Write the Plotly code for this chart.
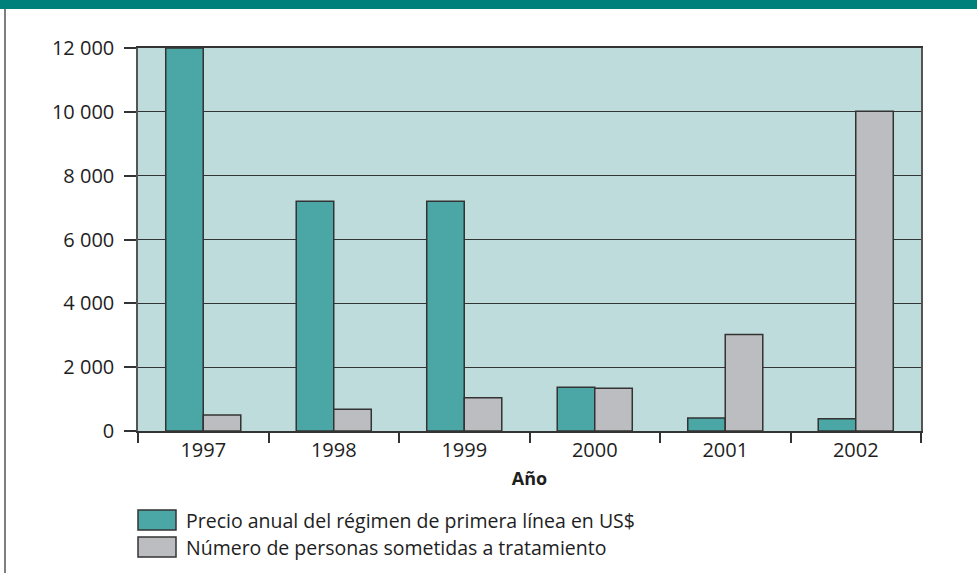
import plotly.graph_objects as go

years = ["1997", "1998", "1999", "2000", "2001", "2002"]
precio = [12000, 7200, 7200, 1370, 410, 380]
personas = [500, 680, 1040, 1340, 3020, 10020]
series_names = ["Precio anual del régimen de primera línea en US$",
                "Número de personas sometidas a tratamiento"]
y_ticks = [0, 2000, 4000, 6000, 8000, 10000, 12000]
x_title = "Año"

TEAL = "#4AA7A5"
GRAY = "#BCBDC1"
BG = "#BFDCDC"
BAND = "#00807A"
EDGE = "#333333"
FONT = "Open Sans"
TXT = "#1e1e1e"

fig = go.Figure()
fig.add_trace(go.Bar(x=years, y=precio, name=series_names[0],
                     marker=dict(color=TEAL, line=dict(color=EDGE, width=1.5))))
fig.add_trace(go.Bar(x=years, y=personas, name=series_names[1],
                     marker=dict(color=GRAY, line=dict(color=EDGE, width=1.5))))

fig.update_layout(
    width=977, height=573,
    margin=dict(l=138, r=56, t=48, b=142),
    paper_bgcolor="white", plot_bgcolor=BG,
    barmode="group", bargap=0.425, bargroupgap=0,
    showlegend=False,
    separators=", ",
    font=dict(family=FONT, size=20, color=TXT),
)
fig.update_xaxes(
    type="category", tickson="boundaries", ticks="outside", ticklen=10,
    tickcolor=EDGE, tickwidth=1.5, showline=True, linecolor=EDGE, linewidth=1.5,
    mirror=True, showgrid=False,
    title=dict(text="<b>" + x_title + "</b>", font=dict(size=18, family=FONT, color=TXT), standoff=11),
    tickfont=dict(size=20, family=FONT, color=TXT),
)
fig.update_yaxes(
    range=[0, 12000], tickvals=y_ticks, tickformat=",d",
    ticks="outside", ticklen=12, tickcolor=EDGE, tickwidth=1.5,
    showline=True, linecolor="#555555", linewidth=1.5, mirror=True,
    showgrid=True, gridcolor=EDGE, gridwidth=1.2, zeroline=False,
    tickfont=dict(size=20, family=FONT, color=TXT), ticklabelstandoff=6,
)

# header band and frame
fig.add_shape(type="rect", xref="paper", yref="paper", x0=-138/783, x1=(977-138)/783,
              y0=1 + 39/383, y1=1 + 48/383, fillcolor=BAND, line=dict(width=0), layer="above")
fig.add_shape(type="line", xref="paper", yref="paper", x0=-133/783, x1=-133/783,
              y0=-142/383, y1=1 + 39/383, line=dict(color="#555555", width=1.5))

# custom legend
colors = [TEAL, GRAY]
rows_y = [520, 547]
for name, col, py in zip(series_names, colors, rows_y):
    yc = 1 - (py - 48) / 383
    fig.add_shape(type="rect", xref="paper", yref="paper",
                  x0=0, x1=38/783, y0=yc - 10/383, y1=yc + 10/383,
                  fillcolor=col, line=dict(color=EDGE, width=1.5))
    fig.add_annotation(xref="paper", yref="paper", x=46/783, y=yc, text=name,
                       showarrow=False, xanchor="left", yanchor="middle",
                       font=dict(family=FONT, size=19.5, color=TXT))

fig.write_html("out.html", config={"displayModeBar": False},
               post_script="document.body.style.margin='0';")
